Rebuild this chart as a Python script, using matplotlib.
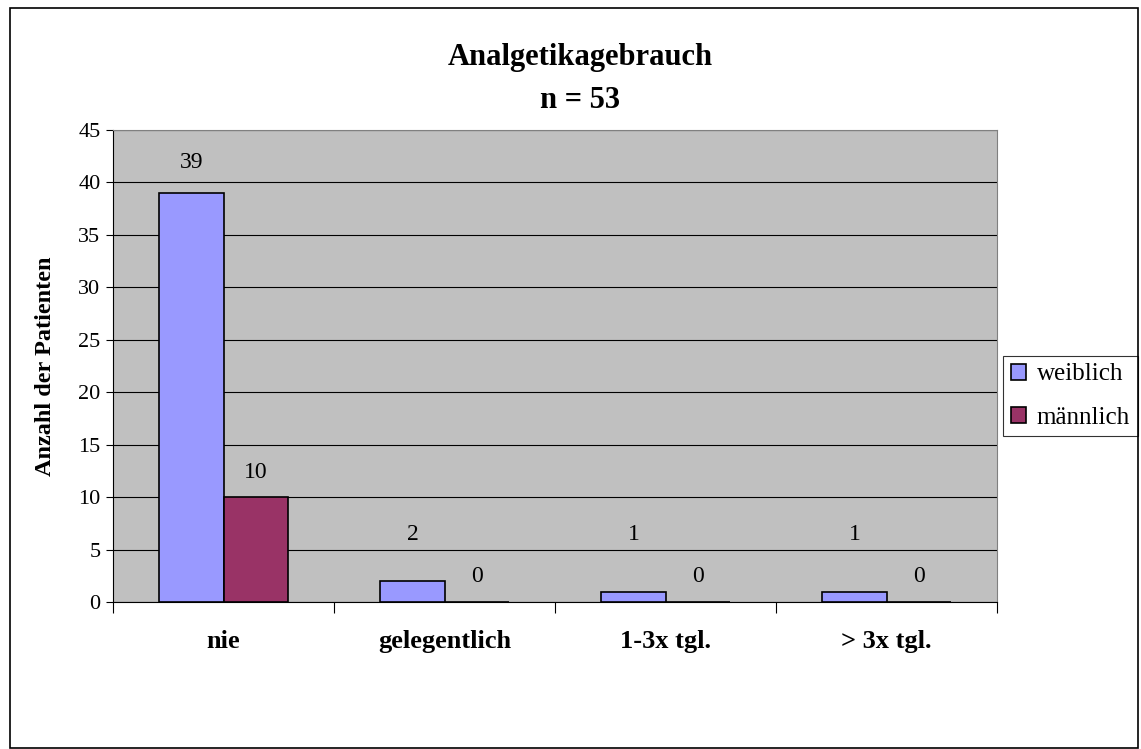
import numpy as np
import matplotlib.pyplot as plt
from matplotlib.patches import Rectangle

# Data
categories = ['nie', 'gelegentlich', '1-3x tgl.', '> 3x tgl.']
weiblich = [39, 2, 1, 1]
maennlich = [10, 0, 0, 0]
y_ticks = list(range(0, 46, 5))

plt.rcParams['font.family'] = ['Liberation Serif', 'DejaVu Serif']

fig = plt.figure(figsize=(11.41, 7.49), dpi=100)
W, H = 1141, 749

# outer frame
fig.patches.append(Rectangle((10 / W, 1 / H), 1128 / W, 740 / H, transform=fig.transFigure,
                             fill=False, edgecolor='black', linewidth=1.2))

ax = fig.add_axes([113 / W, 1 - 602 / H, 884 / W, 472 / H])
ax.set_facecolor('#C0C0C0')

x = np.arange(len(categories))
bw = 0.29
b1 = ax.bar(x - bw / 2, weiblich, bw, color='#9999FF', edgecolor='black', linewidth=1.2, label='weiblich', zorder=3)
b2 = ax.bar(x + bw / 2, maennlich, bw, color='#993366', edgecolor='black', linewidth=1.2, label='männlich', zorder=3)

ax.set_xlim(-0.5, len(categories) - 0.5)
ax.set_ylim(0, 45)

# data labels, weiblich label kept clear of the männlich one (like Excel)
to_px = ax.transData.transform
for i in range(len(categories)):
    wy = to_px((0, weiblich[i]))[1]
    my = to_px((0, maennlich[i]))[1]
    m_lab = my + 25
    w_lab = max(wy + 30, m_lab + 42)
    ax.annotate(str(maennlich[i]), (x[i] + bw / 2, maennlich[i]), xytext=(0, m_lab - my),
                textcoords='offset pixels', ha='center', va='center', fontsize=17)
    ax.annotate(str(weiblich[i]), (x[i] - bw / 2, weiblich[i]), xytext=(0, w_lab - wy),
                textcoords='offset pixels', ha='center', va='center', fontsize=17)

ax.set_yticks(y_ticks)
ax.yaxis.grid(True, color='black', linewidth=0.8)
ax.set_axisbelow(True)
ax.tick_params(axis='y', labelsize=16, length=5, direction='out', width=0.8, pad=4)

ax.set_xticks(x)
ax.set_xticklabels(categories, fontsize=19, fontweight='bold')
ax.set_xticks(np.arange(-0.5, len(categories), 1), minor=True)
ax.tick_params(axis='x', which='major', length=0, pad=20)
ax.tick_params(axis='x', which='minor', length=8, width=0.8)

for s in ('top', 'right'):
    ax.spines[s].set_color('#808080')
for s in ('left', 'bottom'):
    ax.spines[s].set_color('black')
    ax.spines[s].set_linewidth(0.8)

ax.set_ylabel('Anzahl der Patienten', fontsize=17.5, fontweight='bold')
ax.yaxis.set_label_coords(-0.064, 0.5)

fig.text(580 / W, 1 - 58 / H, 'Analgetikagebrauch', ha='center', va='center', fontsize=22, fontweight='bold')
fig.text(580 / W, 1 - 100 / H, 'n = 53', ha='center', va='center', fontsize=22, fontweight='bold')

leg = ax.legend(loc='center left', bbox_to_anchor=(1003 / W, 1 - 396 / H), bbox_transform=fig.transFigure,
                fontsize=18, frameon=True, fancybox=False, edgecolor='black', handlelength=0.6,
                handleheight=0.6, handletextpad=0.45, borderpad=0.3, labelspacing=0.85, borderaxespad=0)
leg.get_frame().set_linewidth(0.8)

fig.savefig('out.png', dpi=100)
